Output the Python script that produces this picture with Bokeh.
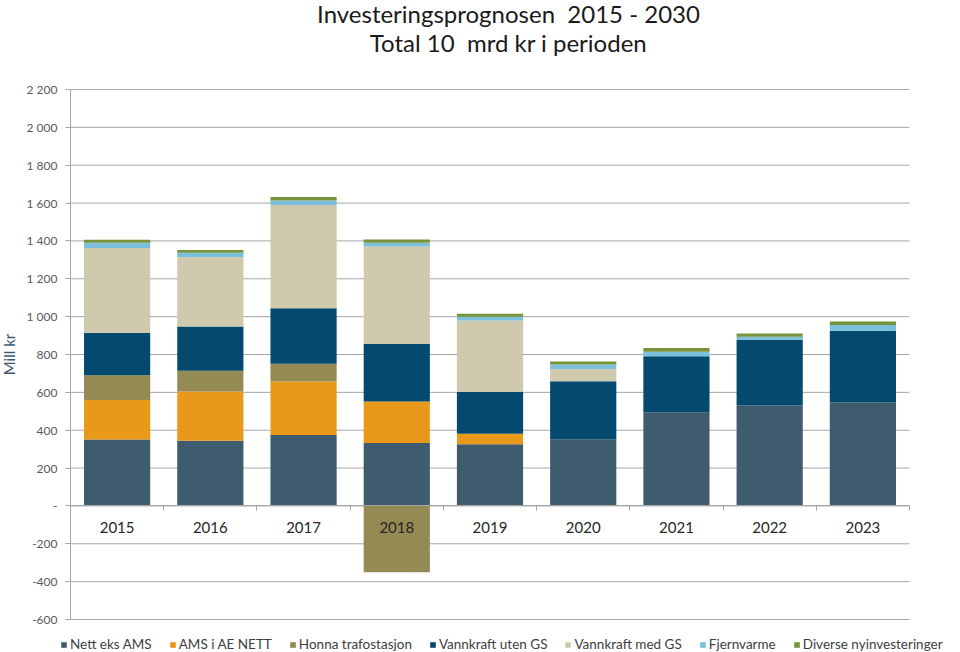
import numpy as np
from bokeh.plotting import figure
from bokeh.models import (ColumnDataSource, Range1d, FixedTicker, LinearAxis,
                          Legend, LegendItem, Label)
from bokeh.embed import file_html
from bokeh.resources import INLINE

title_line1 = "Investeringsprognosen\u00a0 2015 - 2030"
title_line2 = "Total 10\u00a0 mrd kr i perioden"
y_axis_title = "Mill kr"
years = ["2015", "2016", "2017", "2018", "2019", "2020", "2021", "2022", "2023"]
nett_eks_ams = [351, 344, 375, 332, 326, 352, 495, 530, 546]
ams_i_ae_nett = [208, 260, 282, 220, 55, 0, 0, 0, 0]
honna_trafostasjon = [132, 110, 94, -350, 0, 0, 0, 0, 0]
vannkraft_uten_gs = [224, 234, 294, 303, 222, 307, 296, 348, 379]
vannkraft_med_gs = [447, 367, 545, 516, 377, 65, 0, 0, 0]
fjernvarme = [28, 23, 23, 20, 19, 23, 23, 16, 31]
diverse = [16, 14, 19, 17, 16, 16, 20, 17, 19]

series_names = ["Nett eks AMS", "AMS i AE NETT", "Honna trafostasjon", "Vannkraft uten GS",
                "Vannkraft med GS", "Fjernvarme", "Diverse nyinvesteringer"]
series_values = [nett_eks_ams, ams_i_ae_nett, honna_trafostasjon, vannkraft_uten_gs,
                 vannkraft_med_gs, fjernvarme, diverse]
colors = ["#3F5B6E", "#E8991A", "#948A54", "#034A6E", "#CFCAAE", "#7AC0DC", "#77933C"]

y_ticks = list(range(-600, 2201, 200))
def fmt(v):
    if v == 0:
        return "-"
    s = f"{abs(v):,}".replace(",", " ")
    return ("-" if v < 0 else "") + s
y_labels = {t: fmt(t) for t in y_ticks}

FONT = "Lato"
GRID = "#A6A6A6"
n = len(years)
xc = np.arange(n) + 0.5

# layout: the frame fills the canvas; the plotting area is 70..909 px wide, 89..619 px tall
W, H = 960, 652
L, R, T, B = 70, 909, 89, 619
ymin, ymax = y_ticks[0], y_ticks[-1]
cat_px = (R - L) / n
val_px = (ymax - ymin) / (B - T)
x_range = Range1d(-L / cat_px, n + (W - R) / cat_px)
y_range = Range1d(ymin - (H - B) * val_px, ymax + T * val_px)

p = figure(width=W, height=H, x_range=x_range, y_range=y_range,
           output_backend="svg", toolbar_location=None,
           min_border_left=0, min_border_right=0, min_border_top=0, min_border_bottom=0)
p.outline_line_color = None
p.background_fill_color = "white"
p.border_fill_color = "white"
p.xgrid.visible = False
p.ygrid.visible = False

# horizontal gridlines across the category span
p.segment(x0=[0] * len(y_ticks), x1=[n] * len(y_ticks), y0=y_ticks, y1=y_ticks,
          line_color=GRID, line_width=1)

pos = np.zeros(n)
neg = np.zeros(n)
renderers = []
for name, vals, col in zip(series_names, series_values, colors):
    v = np.array(vals, dtype=float)
    bottom = np.where(v >= 0, pos, neg)
    top = bottom + v
    pos = np.where(v >= 0, top, pos)
    neg = np.where(v < 0, top, neg)
    src = ColumnDataSource(dict(x=xc, top=top, bottom=bottom))
    r = p.vbar(x="x", top="top", bottom="bottom", width=0.71, source=src,
               fill_color=col, line_color=None)
    renderers.append((name, r))

# y axis at x = 0
p.yaxis.fixed_location = 0
p.yaxis.bounds = (ymin, ymax)
p.yaxis.ticker = FixedTicker(ticks=y_ticks)
p.yaxis.major_label_overrides = y_labels
p.yaxis.major_label_text_font = FONT
p.yaxis.major_label_text_font_size = "12px"
p.yaxis.major_label_text_color = "#595959"
p.yaxis.major_label_standoff = 8
p.yaxis.axis_line_color = GRID
p.yaxis.major_tick_line_color = GRID
p.yaxis.major_tick_in = 0
p.yaxis.major_tick_out = 5
p.yaxis.minor_tick_line_color = None
p.yaxis.axis_label = y_axis_title
p.yaxis.axis_label_text_font = FONT
p.yaxis.axis_label_text_font_size = "15px"
p.yaxis.axis_label_text_font_style = "normal"
p.yaxis.axis_label_text_color = "#3F5B6E"
p.yaxis.axis_label_standoff = 6

# x axis (labels) at zero
p.xaxis.fixed_location = 0
p.xaxis.ticker = FixedTicker(ticks=list(xc))
p.xaxis.major_label_overrides = {float(x): y for x, y in zip(xc, years)}
p.xaxis.major_tick_line_color = None
p.xaxis.minor_tick_line_color = None
p.xaxis.axis_line_color = None
p.xaxis.major_label_text_font = FONT
p.xaxis.major_label_text_font_size = "15px"
p.xaxis.major_label_text_color = "#262626"
p.xaxis.major_label_standoff = 10

bticks = list(range(n + 1))
bax = LinearAxis(ticker=FixedTicker(ticks=bticks),
                 major_label_overrides={t: "" for t in bticks},
                 fixed_location=0, bounds=(0, n),
                 axis_line_color=GRID, major_tick_line_color=GRID,
                 major_tick_in=0, major_tick_out=5, minor_tick_line_color=None)
p.add_layout(bax, "below")

legend = Legend(items=[LegendItem(label=nm, renderers=[r]) for nm, r in renderers],
                orientation="horizontal", location=(60, 0),
                label_text_font=FONT, label_text_font_size="13.5px", label_text_color="#404040",
                glyph_width=7, glyph_height=7, label_standoff=3, spacing=17,
                padding=0, margin=0, label_height=16, border_line_color=None,
                background_fill_alpha=0)
p.add_layout(legend, "center")

p.add_layout(Label(x=508, y=H - 13, x_units="screen", y_units="screen", text=title_line1,
                   text_align="center", text_baseline="middle", text_font=FONT,
                   text_font_size="24px", text_color="#1a1a1a"))
p.add_layout(Label(x=508, y=H - 42, x_units="screen", y_units="screen", text=title_line2,
                   text_align="center", text_baseline="middle", text_font=FONT,
                   text_font_size="24px", text_color="#1a1a1a"))

open("out.html", "w").write(file_html(p, INLINE))
